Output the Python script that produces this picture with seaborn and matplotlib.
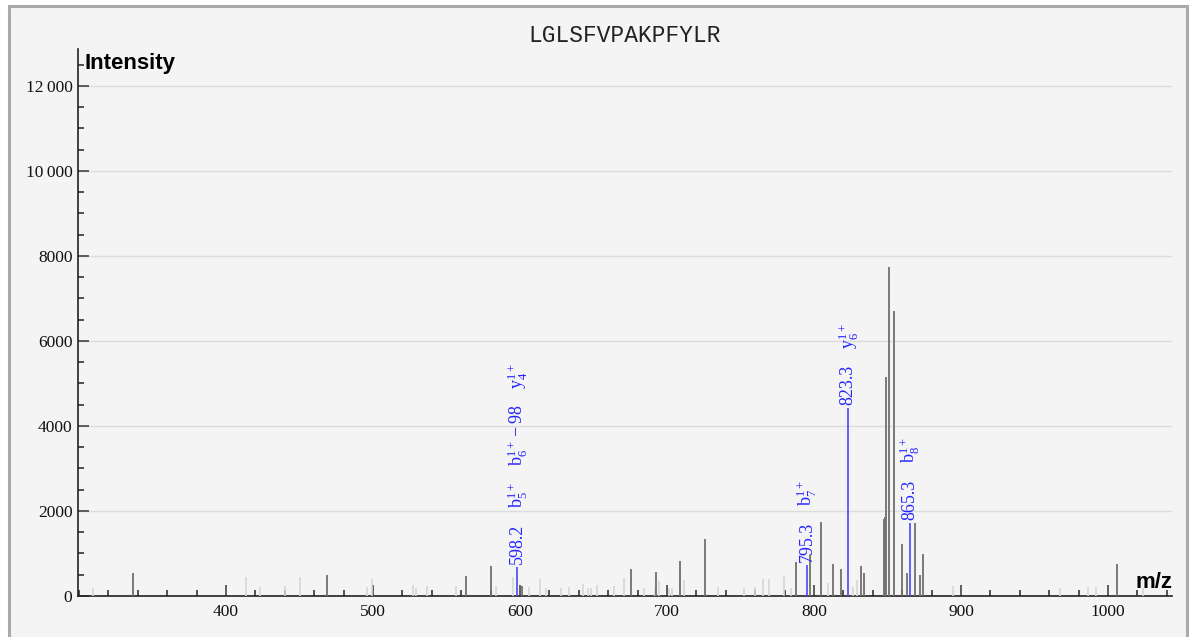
import numpy as np
import pandas as pd
import seaborn as sns
import matplotlib.pyplot as plt
from matplotlib.patches import Rectangle
from matplotlib.ticker import MultipleLocator, FixedLocator, FuncFormatter

peptide = "LGLSFVPAKPFYLR"

# unassigned peaks (dark grey)
other_mz = [336.7, 468.9, 563.3, 580.3, 601.0, 675.5, 692.7, 708.8, 725.6, 787.8,
            797.0, 804.8, 813.2, 818.6, 832.0, 834.1, 847.3, 848.0, 849.0, 851.0,
            854.7, 859.7, 862.9, 869.0, 872.0, 873.9, 1006.3]
other_int = [534, 494, 478, 713, 240, 635, 557, 816, 1341, 800,
             970, 1748, 745, 628, 713, 533, 1800, 1866, 5150, 7734,
             6713, 1224, 548, 1710, 494, 981, 753]

# faint peaks (light grey)
faint_mz = [309.5, 413.6, 423.0, 440.0, 450.0, 496.0, 499.0, 527.0, 529.0, 536.5,
            556.5, 583.5, 595.5, 606.0, 613.6, 617.7, 628.0, 633.5, 642.6, 646.5,
            648.3, 652.6, 664.0, 670.7, 684.6, 691.8, 694.8, 701.6, 703.6, 711.8,
            734.9, 752.6, 759.6, 765.5, 769.6, 779.4, 784.1, 809.5, 826.8, 829.1,
            894.4, 967.6, 986.6, 991.6, 1023.5]
faint_int = [180, 450, 220, 235, 450, 210, 400, 260, 180, 240,
             240, 235, 440, 220, 400, 180, 180, 220, 280, 180,
             180, 250, 240, 420, 180, 180, 350, 180, 180, 376,
             220, 180, 220, 410, 410, 470, 180, 300, 220, 376,
             235, 180, 220, 220, 180]

# annotated fragment ions
ion_mz = [598.2, 795.3, 823.3, 865.3]
ion_int = [675, 722, 4420, 1725]
ion_labels = [
    [r"$\mathrm{b}_{5}^{1+}$", r"$\mathrm{b}_{6}^{1+}-98$", r"$\mathrm{y}_{4}^{1+}$"],
    [r"$\mathrm{b}_{7}^{1+}$"],
    [r"$\mathrm{y}_{6}^{1+}$"],
    [r"$\mathrm{b}_{8}^{1+}$"],
]

x_ticks = [400, 500, 600, 700, 800, 900, 1000]

sns.set_theme(style="white")
plt.rcParams["font.family"] = ["Liberation Serif", "DejaVu Serif"]
plt.rcParams["mathtext.fontset"] = "custom"
plt.rcParams["mathtext.rm"] = "Liberation Serif"
plt.rcParams["mathtext.it"] = "Liberation Serif:italic"

BG = "#f4f4f4"
BLUE = "#2424ff"

peaks = pd.concat([
    pd.DataFrame({"mz": faint_mz, "intensity": faint_int, "kind": "faint"}),
    pd.DataFrame({"mz": other_mz, "intensity": other_int, "kind": "other"}),
    pd.DataFrame({"mz": ion_mz, "intensity": ion_int, "kind": "ion"}),
])
peak_style = {"faint": ("#d6d6d6", 1.2), "other": ("#707070", 1.3), "ion": ("#4848ff", 1.2)}

fig = plt.figure(figsize=(11.9, 6.37), dpi=100, facecolor="white")
fig.add_artist(Rectangle((9 / 1190, -0.05), 1178 / 1190, 1.05 - 6 / 637,
                         transform=fig.transFigure, facecolor=BG,
                         edgecolor="#aaaaaa", linewidth=2.2, zorder=-10))

ax = fig.add_axes([78 / 1190, 41 / 637, 1094 / 1190, 547 / 637])
ax.patch.set_alpha(0)

for kind, grp in peaks.groupby("kind", sort=False):
    col, lw = peak_style[kind]
    ax.vlines(grp["mz"], 0, grp["intensity"], color=col, linewidth=lw, zorder=3)

ax.set_xlim(299.3, 1043.5)
ax.set_ylim(0, 12870)

ax.xaxis.set_major_locator(FixedLocator(x_ticks))
ax.xaxis.set_minor_locator(MultipleLocator(20))
ax.yaxis.set_major_locator(MultipleLocator(2000))
ax.yaxis.set_minor_locator(MultipleLocator(500))


def fmt_int(v, pos):
    v = int(round(v))
    if v >= 10000:
        return f"{v:,}".replace(",", "\u2009")
    return str(v)


ax.yaxis.set_major_formatter(FuncFormatter(fmt_int))
ax.xaxis.set_major_formatter(FuncFormatter(fmt_int))

ax.tick_params(axis="both", which="major", direction="in", length=8, width=1.2,
               color="#444444", labelsize=12.5, labelcolor="#111111")
ax.tick_params(axis="both", which="minor", direction="in", length=4.5, width=1.1,
               color="#222222")
ax.tick_params(axis="x", which="major", pad=6)
ax.tick_params(axis="y", which="major", pad=4)
ax.xaxis.set_ticks_position("bottom")
ax.yaxis.set_ticks_position("left")

ax.yaxis.grid(True, color="#dcdcdc", linewidth=1)
ax.xaxis.grid(False)
ax.set_axisbelow(True)

sns.despine(ax=ax)
for side in ["left", "bottom"]:
    ax.spines[side].set_color("#222222")
    ax.spines[side].set_linewidth(1.2)

# peak annotations: m/z value, then stacked ion names
for mz, inten, labs in zip(ion_mz, ion_int, ion_labels):
    prev = ax.annotate(f"{mz:.1f}", xy=(mz, inten), xytext=(0, 3),
                       textcoords="offset pixels", rotation=90, ha="center",
                       va="bottom", color=BLUE, fontsize=13, zorder=4)
    for lab in labs:
        prev = ax.annotate(lab, xy=(0.5, 1), xycoords=prev, xytext=(0, 16),
                           textcoords="offset pixels", rotation=90, ha="center",
                           va="bottom", color=BLUE, fontsize=13, zorder=4)

fig.text(625 / 1190, 1 - 35 / 637, peptide, family="Liberation Mono",
         fontsize=16.5, ha="center", va="center", color="#222222")
fig.text(85 / 1190, 1 - 63 / 637, "Intensity", family="Liberation Sans",
         fontweight="bold", fontsize=16, ha="left", va="center", color="black")
fig.text(1172 / 1190, 1 - 583 / 637, "m/z", family="Liberation Sans",
         fontweight="bold", fontsize=16, ha="right", va="center", color="black")

fig.savefig("out.png", dpi=100, facecolor=fig.get_facecolor())
